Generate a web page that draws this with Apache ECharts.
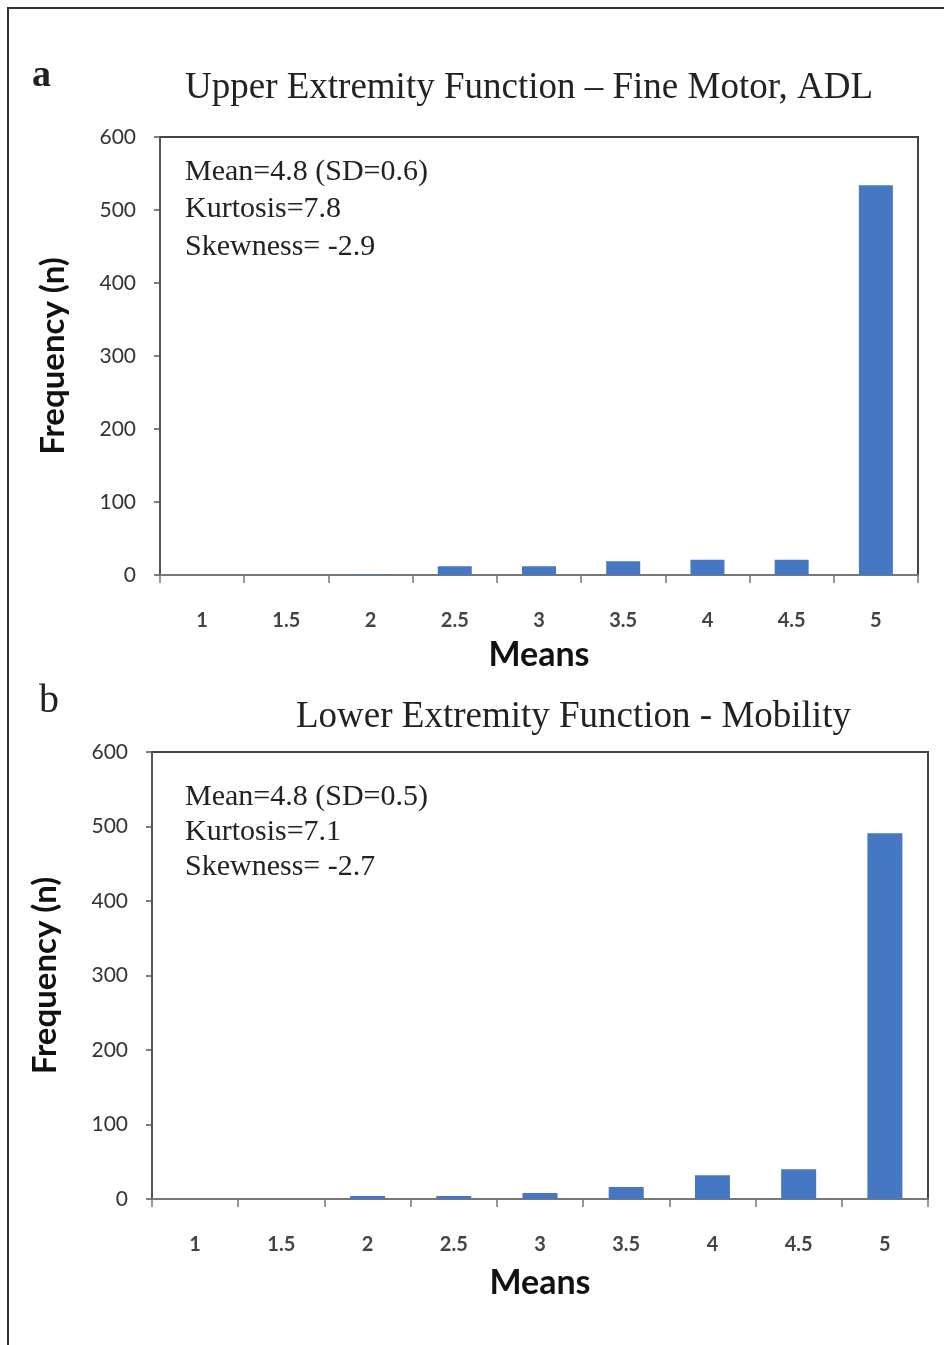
<!DOCTYPE html>
<html><head><meta charset="utf-8">
<script src="https://cdn.jsdelivr.net/npm/echarts@6/dist/echarts.min.js"></script>
<style>html,body{margin:0;padding:0;background:#fff}#c{width:944px;height:1345px}</style>
</head><body><div id="c"></div>
<script>
const categories = ['1','1.5','2','2.5','3','3.5','4','4.5','5'];
const valuesA = [0, 0, 1, 12, 12, 19, 21, 21, 534];
const valuesB = [0, 0, 4, 4, 8, 16, 32, 40, 491];
const yTicks = [0, 100, 200, 300, 400, 500, 600];
const titleA = 'Upper Extremity Function \u2013 Fine Motor, ADL';
const titleB = 'Lower Extremity Function - Mobility';
const statsA = ['Mean=4.8 (SD=0.6)', 'Kurtosis=7.8', 'Skewness= -2.9'];
const statsB = ['Mean=4.8 (SD=0.5)', 'Kurtosis=7.1', 'Skewness= -2.7'];

const serif = '"Liberation Serif", "DejaVu Serif", serif';
const sans = 'Lato, "Open Sans", sans-serif';
const barCol = '#4677c2';

function xAxis(i){
  return {
    type:'category', gridIndex:i, data:categories, boundaryGap:true,
    axisLine:{show:true, lineStyle:{color:'#777', width:2}},
    axisTick:{show:true, alignWithLabel:false, length:8, lineStyle:{color:'#777', width:1.5}},
    axisLabel:{color:'#444', fontFamily:sans, fontSize:20, fontWeight:'bold', margin:36},
    name:'Means', nameLocation:'middle', nameGap:i===0?63:67,
    nameTextStyle:{color:'#111', fontFamily:sans, fontSize:34, fontWeight:'bold'}
  };
}
function yAxis(i){
  return {
    type:'value', gridIndex:i, min:yTicks[0], max:yTicks[yTicks.length-1], interval:100,
    splitLine:{show:false},
    axisLine:{show:true, lineStyle:{color:'#555', width:2}},
    axisTick:{show:true, length:6, lineStyle:{color:'#555', width:1.5}},
    axisLabel:{color:'#333', fontFamily:sans, fontSize:21, fontWeight:'normal', margin:24},
    name:'Frequency (n)', nameLocation:'middle', nameGap:90,
    nameTextStyle:{color:'#111', fontFamily:sans, fontSize:33, fontWeight:'bold'}
  };
}
function statText(lines, x, y0, dy){
  return lines.map((t,k)=>({type:'text', left:x, top:y0+k*dy,
    style:{text:t, font:'30px '+serif, fill:'#222'}}));
}

const chart = echarts.init(document.getElementById('c'));
chart.setOption({
  animation:false,
  backgroundColor:'#fff',
  grid:[
    {left:160, top:137, width:758, height:438, show:true, borderColor:'#444', borderWidth:2, backgroundColor:'transparent'},
    {left:152, top:752, width:776, height:447, show:true, borderColor:'#444', borderWidth:2, backgroundColor:'transparent'}
  ],
  xAxis:[xAxis(0), xAxis(1)],
  yAxis:[yAxis(0), yAxis(1)],
  series:[
    {type:'bar', xAxisIndex:0, yAxisIndex:0, data:valuesA, barWidth:34, itemStyle:{color:barCol}},
    {type:'bar', xAxisIndex:1, yAxisIndex:1, data:valuesB, barWidth:35, itemStyle:{color:barCol}}
  ],
  graphic:[
    {type:'polyline', shape:{points:[[8,1345],[8,8],[944,8]]}, style:{stroke:'#333', lineWidth:2, fill:null}},
    {type:'text', left:32, top:57, style:{text:'a', font:'bold 38px '+serif, fill:'#222'}},
    {type:'text', left:39, top:681, style:{text:'b', font:'40px '+serif, fill:'#222'}},
    {type:'text', left:185, top:70, style:{text:titleA, font:'37px '+serif, fill:'#222'}},
    {type:'text', left:296, top:699, style:{text:titleB, font:'37px '+serif, fill:'#222'}},
    ...statText(statsA, 185, 157, 37.5),
    ...statText(statsB, 185, 782, 35)
  ]
});
</script></body></html>
